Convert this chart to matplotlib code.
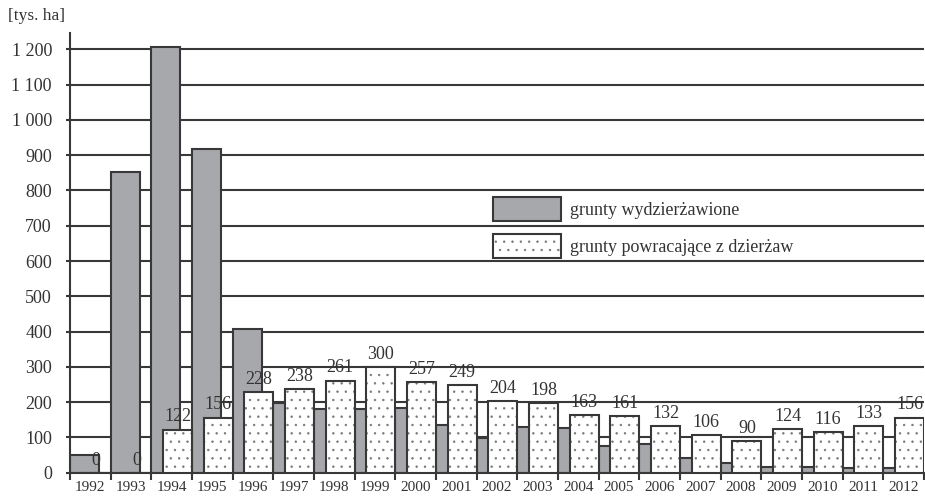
import numpy as np
import matplotlib.pyplot as plt
from matplotlib.patches import Patch

# Data (thousand ha)
years = ['1992', '1993', '1994', '1995', '1996', '1997', '1998', '1999', '2000', '2001', '2002',
         '2003', '2004', '2005', '2006', '2007', '2008', '2009', '2010', '2011', '2012']
leased_out = [50, 851, 1207, 917, 407, 198, 180, 180, 184, 135, 97,
              130, 128, 77, 81, 41, 28, 17, 17, 13, 13]
returned = [0, 0, 122, 156, 228, 238, 261, 300, 257, 249, 204,
            198, 163, 161, 132, 106, 90, 124, 116, 133, 156]
y_ticks = [0, 100, 200, 300, 400, 500, 600, 700, 800, 900, 1000, 1100, 1200]
y_tick_labels = ['0', '100', '200', '300', '400', '500', '600', '700', '800', '900',
                 '1 000', '1 100', '1 200']

label_leased = 'grunty wydzierżawione'
label_returned = 'grunty powracające z dzierżaw'

# Style
GREY = '#a7a8ac'
EDGE = '#383838'
DOTS = '#777777'
TEXT = '#333333'
plt.rcParams['font.family'] = ['Liberation Serif', 'DejaVu Serif']
plt.rcParams['hatch.linewidth'] = 0.5

fig = plt.figure(figsize=(9.25, 4.98), dpi=100)
ax = fig.add_axes([0.0757, 0.0508, 0.9233, 0.8835])

x = np.arange(len(years))
bar_w = 0.715
offset = 1 - bar_w

ax.bar(x, leased_out, width=bar_w, align='edge', color=GREY,
       edgecolor=EDGE, linewidth=1.5, zorder=2)
# white bars: fill, dotted pattern, then outline on top
ax.bar(x + offset, returned, width=bar_w, align='edge', color='white',
       linewidth=0, zorder=3)
ax.bar(x + offset, returned, width=bar_w, align='edge', fill=False,
       edgecolor=DOTS, linewidth=0, hatch='..', zorder=3.1)
ax.bar(x + offset, returned, width=bar_w, align='edge', fill=False,
       edgecolor=EDGE, linewidth=1.5, zorder=3.2)

for xi, v in zip(x, returned):
    ax.annotate(str(v), (xi + offset + bar_w / 2, v), xytext=(0, 3),
                textcoords='offset points', ha='center', va='bottom',
                fontsize=13, color=TEXT, zorder=4)

ax.set_xlim(0, len(years))
ax.set_ylim(0, 1247)

ax.set_yticks(y_ticks)
ax.set_yticklabels(y_tick_labels, fontsize=13, color=TEXT)
ax.yaxis.grid(True, color=EDGE, linewidth=1.5, zorder=0)
ax.set_axisbelow(True)
ax.tick_params(axis='y', length=3, width=1.5, color=EDGE, pad=10)

ax.set_xticks(np.arange(len(years) + 1))
ax.set_xticklabels([])
ax.set_xticks(x + 0.5, minor=True)
ax.set_xticklabels(years, minor=True, fontsize=11, color=TEXT)
ax.tick_params(axis='x', which='major', length=5, width=1.5, color=EDGE, direction='out')
ax.tick_params(axis='x', which='minor', length=0, pad=6)

for side in ['top', 'right']:
    ax.spines[side].set_visible(False)
for side in ['left', 'bottom']:
    ax.spines[side].set_color(EDGE)
    ax.spines[side].set_linewidth(1.5)

fig.text(0.009, 0.968, '[tys. ha]', fontsize=12.5, color=TEXT, va='center', ha='left')

h_leased = Patch(facecolor=GREY, edgecolor=EDGE, linewidth=1.5)
h_white = Patch(facecolor='white', linewidth=0)
h_dots = Patch(fill=False, edgecolor=DOTS, linewidth=0, hatch='..')
h_edge = Patch(fill=False, edgecolor=EDGE, linewidth=1.5)
leg = ax.legend(handles=[h_leased, (h_white, h_dots, h_edge)], labels=[label_leased, label_returned],
                loc='upper left', bbox_to_anchor=(493 / 925, 1 - 197 / 498),
                bbox_transform=fig.transFigure, frameon=False, fontsize=13,
                handlelength=3.75, handleheight=1.67, handletextpad=0.5,
                labelspacing=0.7, borderpad=0, borderaxespad=0)
for t in leg.get_texts():
    t.set_color(TEXT)

fig.savefig('out.png', dpi=100)
